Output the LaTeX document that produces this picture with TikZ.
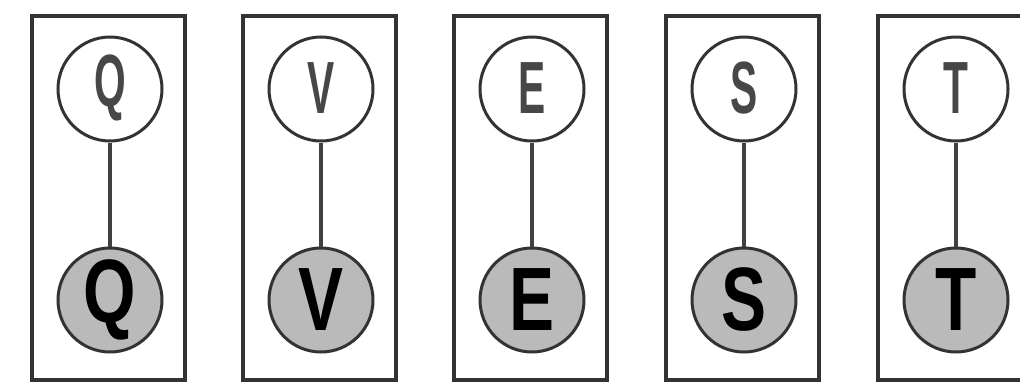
\documentclass[tikz,border=0pt]{standalone}
\usepackage{fontspec}
\setmainfont{Liberation Sans}
\begin{document}
\begin{tikzpicture}[x=1pt,y=-1pt,
  frame/.style={draw=black!80,line width=3.6pt},
  obs/.style={circle,draw=black!80,line width=3pt,minimum size=104pt,inner sep=0pt},
  hid/.style={obs,fill=black!27},
  toplet/.style={text=black!72,font=\fontsize{74}{74}\selectfont\bfseries},
  botlet/.style={text=black,font=\fontsize{90}{90}\selectfont\bfseries},
  link/.style={draw=black!75,line width=3.2pt}]
\useasboundingbox (0,0) rectangle (1020,383);
\clip (0,0) rectangle (1020,383);
\foreach \i/\L/\cx in {1/Q/110,2/V/321,3/E/532,4/S/744,5/T/956}{
  \draw[frame] (\cx-78,16) rectangle (\cx+75,380);
  \node[obs] (t\i) at (\cx,89) {};
  \node[toplet] at (\cx,88) {\scalebox{0.55}[1]{\L}};
  \node[hid] (b\i) at (\cx,300) {};
  \node[botlet] at (\cx,300) {\scalebox{0.75}[1]{\L}};
  \draw[link] (t\i) -- (b\i);
}
\end{tikzpicture}
\end{document}
